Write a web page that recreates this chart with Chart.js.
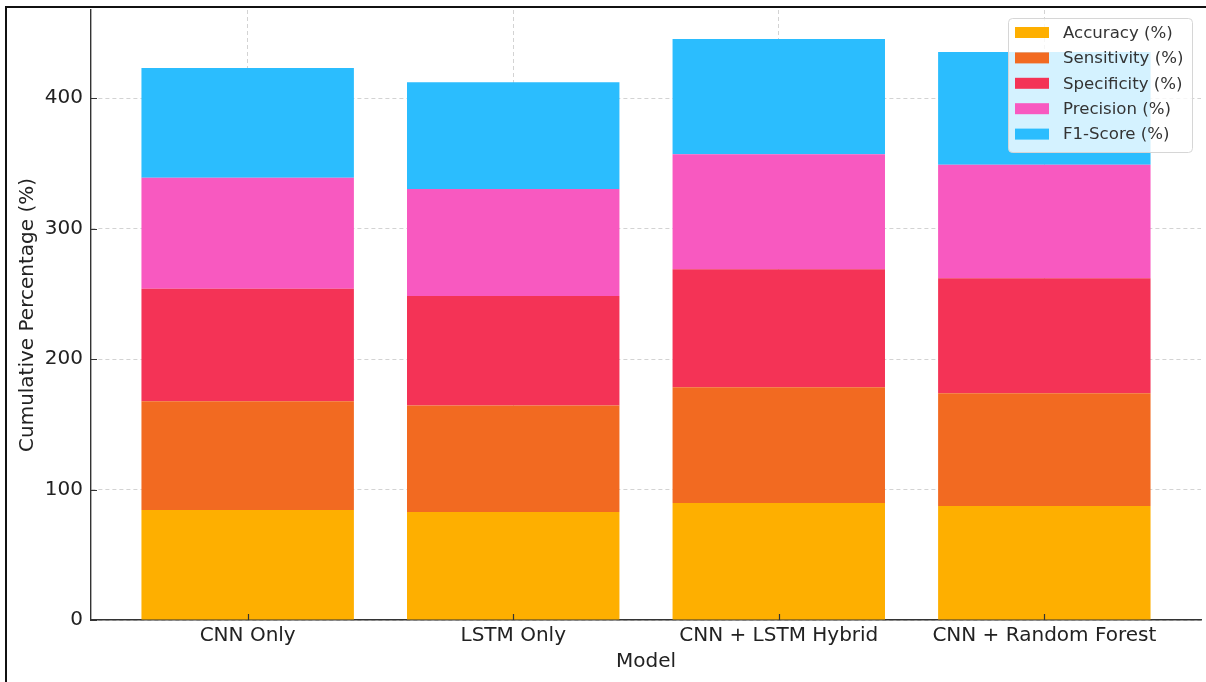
<!DOCTYPE html>
<html>
<head>
<meta charset="utf-8">
<script src="https://cdn.jsdelivr.net/npm/chart.js@4.4.0/dist/chart.umd.min.js"></script>
<style>
  html, body { margin: 0; padding: 0; background: #fff; overflow: hidden; }
  #wrap { position: relative; width: 1206px; height: 682px; }
  #frame { position: absolute; left: 5px; top: 6px; width: 1300px; height: 800px;
           border: 2px solid #111; pointer-events: none; }
</style>
</head>
<body>
<div id="wrap">
  <canvas id="stackChart"></canvas>
  <div id="frame"></div>
</div>
<script>
// Models on the x axis
const models = ['CNN Only', 'LSTM Only', 'CNN + LSTM Hybrid', 'CNN + Random Forest'];

// Metric values (%)
const accuracy    = [84.3, 82.7, 89.7, 87.3];
const sensitivity = [83.4, 81.7, 88.7, 86.5];
const specificity = [86.2, 83.9, 90.4, 88.2];
const precision   = [85.2, 82.1, 88.3, 86.9];
const f1Score     = [84.1, 81.9, 88.2, 86.5];

const metricNames = ['Accuracy (%)', 'Sensitivity (%)', 'Specificity (%)', 'Precision (%)', 'F1-Score (%)'];
const metricColors = ['#FEAF00', '#F26A21', '#F43356', '#F859C0', '#2BBDFE'];

// y axis ticks
const yTicks = [0, 100, 200, 300, 400];

const FONT = '"DejaVu Sans", "Liberation Sans", sans-serif';

const seriesList = [accuracy, sensitivity, specificity, precision, f1Score];
const datasets = seriesList.map((values, k) => ({
  label: metricNames[k],
  data: values.map((v, i) => ({ x: i, y: v })),
  backgroundColor: metricColors[k],
  borderWidth: 0,
  categoryPercentage: 0.8,
  barPercentage: 1.0
}));

// small inward tick marks, like the matplotlib original
const inwardTicks = {
  id: 'inwardTicks',
  afterDatasetsDraw(chart) {
    const { ctx, chartArea, scales } = chart;
    ctx.save();
    ctx.strokeStyle = '#333';
    ctx.lineWidth = 1.2;
    ctx.beginPath();
    scales.y.ticks.forEach(t => {
      const py = Math.round(scales.y.getPixelForValue(t.value)) + 0.5;
      ctx.moveTo(chartArea.left, py);
      ctx.lineTo(chartArea.left + 6, py);
    });
    scales.x.ticks.forEach(t => {
      const px = Math.round(scales.x.getPixelForValue(t.value)) + 0.5;
      ctx.moveTo(px, chartArea.bottom);
      ctx.lineTo(px, chartArea.bottom - 6);
    });
    ctx.stroke();
    ctx.restore();
  }
};

// legend box drawn inside the plot, upper right
const insideLegend = {
  id: 'insideLegend',
  afterDraw(chart) {
    const { ctx, chartArea } = chart;
    const w = 184, h = 134;
    const left = chartArea.right - 9 - w;
    const top = chartArea.top + 8;
    ctx.save();
    ctx.beginPath();
    ctx.roundRect(left + 0.5, top + 0.5, w, h, 4);
    ctx.fillStyle = 'rgba(255,255,255,0.8)';
    ctx.fill();
    ctx.strokeStyle = '#d6d6d6';
    ctx.lineWidth = 1;
    ctx.stroke();
    ctx.font = '16.6px ' + FONT;
    ctx.textBaseline = 'middle';
    chart.data.datasets.forEach((ds, i) => {
      const cy = top + 14.5 + i * 25.4;
      ctx.fillStyle = ds.backgroundColor;
      ctx.fillRect(left + 7, cy - 5.5, 34, 11);
      ctx.fillStyle = '#333';
      ctx.fillText(ds.label, left + 55, cy + 1);
    });
    ctx.restore();
  }
};

new Chart(document.getElementById('stackChart'), {
  type: 'bar',
  data: { datasets: datasets },
  options: {
    responsive: true,
    maintainAspectRatio: false,
    animation: false,
    layout: { padding: { left: 0, right: 5, top: 10, bottom: 0 } },
    plugins: {
      legend: { display: false },
      tooltip: { enabled: false }
    },
    scales: {
      x: {
        type: 'linear',
        stacked: true,
        offset: false,
        min: -0.59,
        max: 3.59,
        z: 1,
        afterBuildTicks: axis => { axis.ticks = models.map((_, i) => ({ value: i })); },
        afterFit: axis => {
          axis.height = 62;
          axis.paddingLeft = 0;
          axis.paddingRight = 0;
        },
        ticks: {
          color: '#222',
          font: { family: FONT, size: 20 },
          padding: 4,
          maxRotation: 0,
          autoSkip: false,
          callback: value => models[value]
        },
        grid: { offset: false, color: 'rgba(140,140,140,0.38)', lineWidth: 1, drawTicks: false },
        border: { display: true, color: '#333', width: 1.4, dash: [4, 3] },
        title: {
          display: true,
          text: 'Model',
          color: '#222',
          font: { family: FONT, size: 20 },
          padding: { top: 0, bottom: 8 }
        }
      },
      y: {
        stacked: true,
        min: 0,
        max: 467.6,
        z: 1,
        afterBuildTicks: axis => { axis.ticks = yTicks.map(v => ({ value: v })); },
        afterFit: axis => {
          axis.width = 91;
          axis.paddingTop = 0;
          axis.paddingBottom = 0;
        },
        ticks: {
          color: '#222',
          font: { family: FONT, size: 20 },
          padding: 8
        },
        grid: { color: 'rgba(140,140,140,0.38)', lineWidth: 1, drawTicks: false },
        border: { display: true, color: '#333', width: 1.4, dash: [4, 3] },
        title: {
          display: true,
          text: 'Cumulative Percentage (%)',
          color: '#222',
          font: { family: FONT, size: 20 },
          padding: { top: 16, bottom: 0 }
        }
      }
    }
  },
  plugins: [inwardTicks, insideLegend]
});
</script>
</body>
</html>
